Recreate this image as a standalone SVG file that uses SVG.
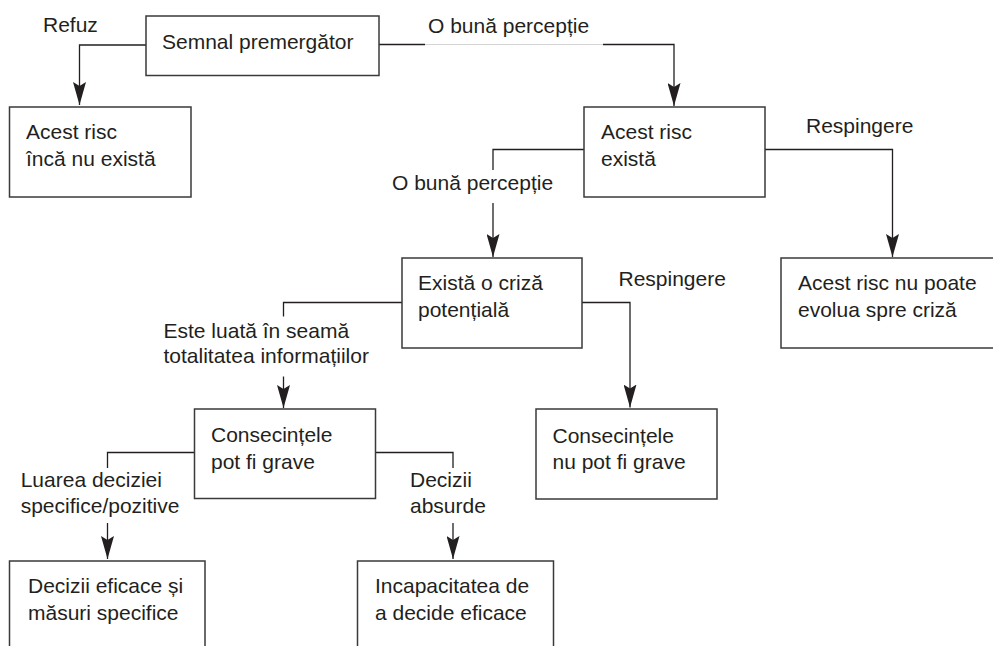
<svg xmlns="http://www.w3.org/2000/svg" width="993" height="646" viewBox="0 0 993 646">
<style>
  .box { fill: #ffffff; stroke: #3a3a3a; stroke-width: 1.5; }
  .t { font-family: "Liberation Sans", Arial, sans-serif; font-size: 21px; fill: #231f20; }
  .ln { fill: none; stroke: #231f20; stroke-width: 1.3; }
  .faint { fill: none; stroke: #d4d4d4; stroke-width: 1; }
  .arr { fill: none; stroke: #231f20; stroke-width: 1.3; marker-end: url(#ah); }
</style>
<defs>
  <marker id="ah" viewBox="0 0 23 13" refX="23" refY="6.5" markerWidth="23" markerHeight="13" markerUnits="userSpaceOnUse" orient="auto">
    <path d="M0,0 L23,6.5 L0,13 L4,6.5 Z" fill="#231f20"/>
  </marker>
</defs>
<rect width="993" height="646" fill="#ffffff"/>

<g id="connectors">
  <path class="arr" d="M146,45 H79.5 V105"/>
  <path class="ln" d="M379,44.5 H425"/>
  <path class="faint" d="M425,44.5 H603"/>
  <path class="arr" d="M603,44.5 H674 V106"/>
  <path class="ln" d="M584,149.5 H493 V170"/>
  <path class="arr" d="M493,203 V257"/>
  <path class="arr" d="M765,149.5 H892.5 V257"/>
  <path class="ln" d="M402,302.5 H283.5 V316.5"/>
  <path class="arr" d="M283.5,376.5 V408"/>
  <path class="arr" d="M582,302.5 H630 V407.5"/>
  <path class="ln" d="M194.5,452.5 H107.5 V468"/>
  <path class="arr" d="M107.5,523 V559"/>
  <path class="ln" d="M375.5,452.5 H453 V468"/>
  <path class="arr" d="M453,523 V559"/>
</g>

<g id="labels">
  <text class="t" x="43" y="32">Refuz</text>
  <text class="t" x="428" y="32.5">O bună percepție</text>
  <text class="t" x="806" y="133">Respingere</text>
  <text class="t" x="392" y="190">O bună percepție</text>
  <text class="t" x="618.5" y="286">Respingere</text>
  <text class="t" x="163.5" y="338"><tspan x="163.5">Este luată în seamă</tspan><tspan x="163.5" y="362.7">totalitatea informațiilor</tspan></text>
  <text class="t" x="20.7" y="487"><tspan x="20.7">Luarea deciziei</tspan><tspan x="20.7" y="512.7">specifice/pozitive</tspan></text>
  <text class="t" x="410" y="487"><tspan x="410">Decizii</tspan><tspan x="410" y="512.7">absurde</tspan></text>
</g>

<g id="n-semnal">
  <rect class="box" x="146" y="16" width="233" height="59.5"/>
  <text class="t" x="162" y="49">Semnal premergător</text>
</g>
<g id="n-nuexista">
  <rect class="box" x="9.5" y="107" width="181.5" height="90"/>
  <text class="t" x="26" y="139"><tspan x="26">Acest risc</tspan><tspan x="26" y="166">încă nu există</tspan></text>
</g>
<g id="n-exista">
  <rect class="box" x="584" y="107" width="181" height="90"/>
  <text class="t" x="601" y="138.5"><tspan x="601">Acest risc</tspan><tspan x="601" y="165.5">există</tspan></text>
</g>
<g id="n-criza">
  <rect class="box" x="402" y="258" width="180" height="90"/>
  <text class="t" x="418" y="289.5"><tspan x="418">Există o criză</tspan><tspan x="418" y="316.5">potențială</tspan></text>
</g>
<g id="n-nupoate">
  <rect class="box" x="781" y="258" width="230" height="90"/>
  <text class="t" x="798" y="289.5"><tspan x="798">Acest risc nu poate</tspan><tspan x="798" y="316.5">evolua spre criză</tspan></text>
</g>
<g id="n-grave">
  <rect class="box" x="194.5" y="409" width="181" height="89.5"/>
  <text class="t" x="211" y="441.5"><tspan x="211">Consecințele</tspan><tspan x="211" y="468.5">pot fi grave</tspan></text>
</g>
<g id="n-nugrave">
  <rect class="box" x="536" y="409" width="181" height="90"/>
  <text class="t" x="552.5" y="442.5"><tspan x="552.5">Consecințele</tspan><tspan x="552.5" y="469">nu pot fi grave</tspan></text>
</g>
<g id="n-eficace">
  <rect class="box" x="9.5" y="561" width="195.5" height="100"/>
  <text class="t" x="28" y="593"><tspan x="28">Decizii eficace și</tspan><tspan x="28" y="620">măsuri specifice</tspan></text>
</g>
<g id="n-incapacitate">
  <rect class="box" x="357.5" y="561" width="196" height="100"/>
  <text class="t" x="375" y="593"><tspan x="375">Incapacitatea de</tspan><tspan x="375" y="620">a decide eficace</tspan></text>
</g>
</svg>
